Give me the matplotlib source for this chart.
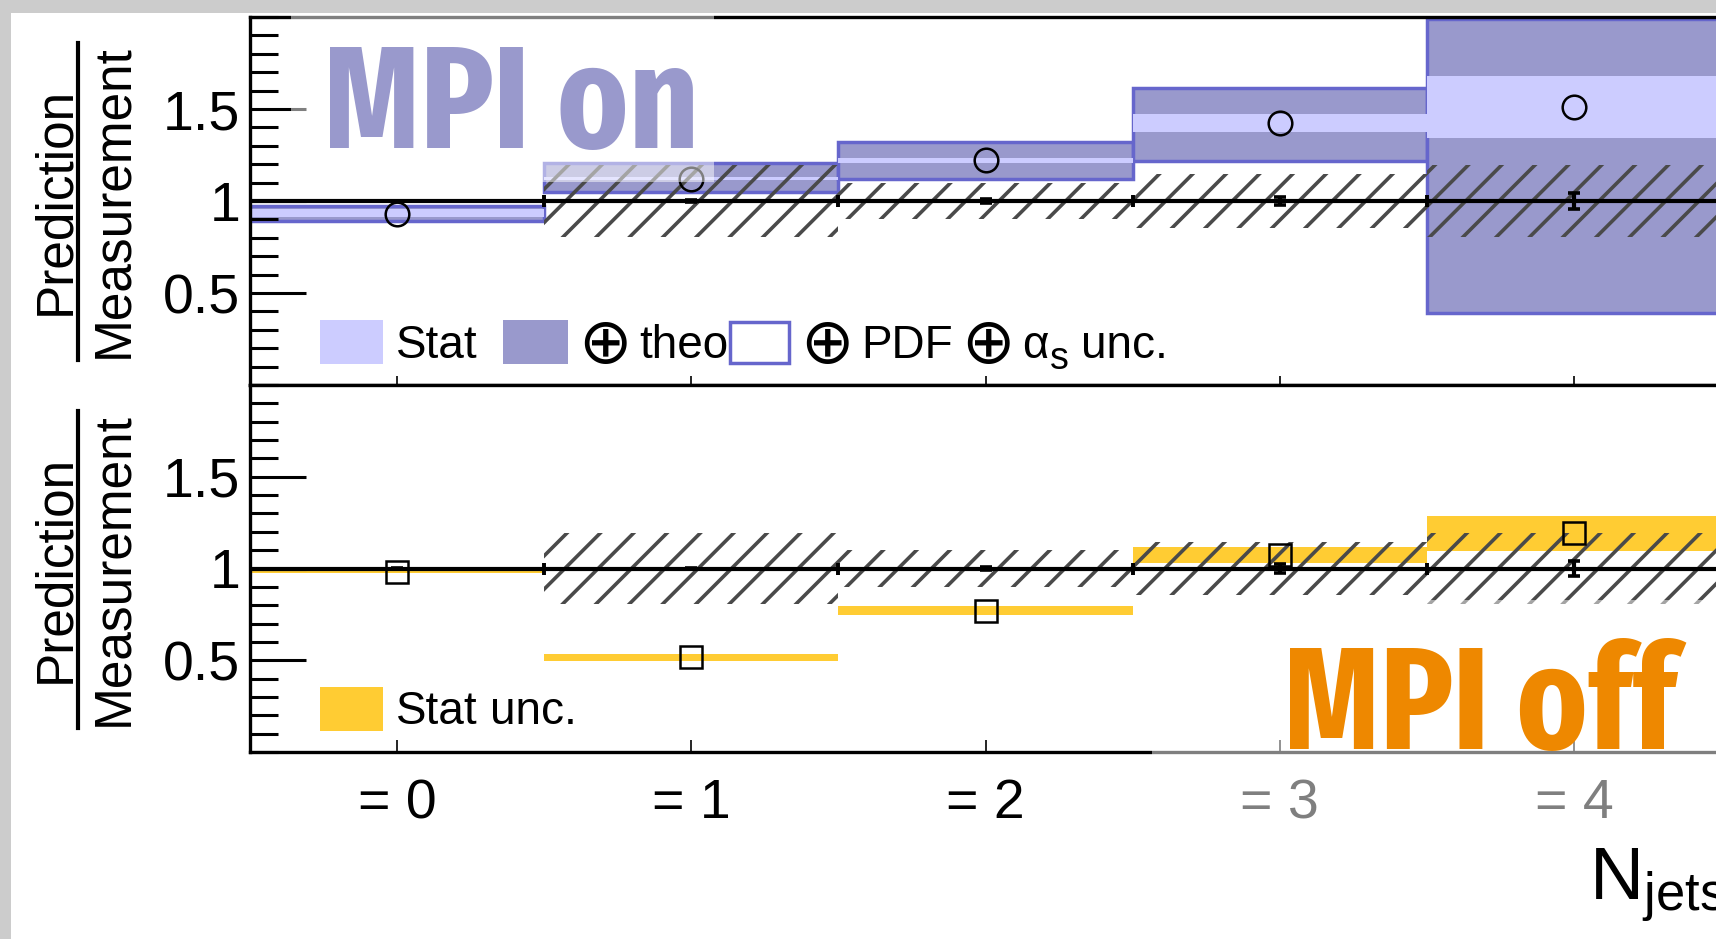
import os
import numpy as np
import matplotlib
matplotlib.use('Agg')
import matplotlib.pyplot as plt
from matplotlib import font_manager as fm
from matplotlib.ft2font import FT2Font
from matplotlib.patches import Rectangle
from matplotlib.lines import Line2D
from matplotlib.ticker import FixedLocator, MultipleLocator, FuncFormatter

# jet multiplicity bins
njets = [0, 1, 2, 3, 4]
njets_labels = ['= 0', '= 1', '= 2', '= 3', '= 4']

# measurement (ratio to itself = 1)
meas_ratio = [1.0, 1.0, 1.0, 1.0, 1.0]
meas_stat = [0.002, 0.005, 0.010, 0.023, 0.042]
meas_unc = [0.005, 0.195, 0.100, 0.145, 0.195]

# MPI on: prediction / measurement
mpi_on = [0.932, 1.120, 1.222, 1.425, 1.512]
mpi_on_stat_lo = [0.912, 1.113, 1.208, 1.374, 1.343]
mpi_on_stat_hi = [0.955, 1.130, 1.235, 1.474, 1.682]
mpi_on_tot_lo = [0.892, 1.050, 1.121, 1.218, 0.393]
mpi_on_tot_hi = [0.971, 1.205, 1.320, 1.614, 1.990]

# MPI off: prediction / measurement
mpi_off = [0.980, 0.517, 0.771, 1.074, 1.192]
mpi_off_stat_lo = [0.975, 0.497, 0.748, 1.028, 1.097]
mpi_off_stat_hi = [0.990, 0.534, 0.795, 1.119, 1.286]

STAT = '#ccccff'
THEO = '#9999cc'
EDGE = '#6666cc'
YELLOW = '#ffcc33'
HATCH = '#4a4a4a'
ORANGE = '#ee8800'

plt.rcParams['font.family'] = ['Liberation Sans', 'DejaVu Sans']
plt.rcParams['mathtext.fontset'] = 'custom'
plt.rcParams['mathtext.rm'] = 'Liberation Sans'
plt.rcParams['mathtext.it'] = 'Liberation Sans:italic'
plt.rcParams['mathtext.bf'] = 'Liberation Sans:bold'
plt.rcParams['hatch.linewidth'] = 2.6

W, H = 1716, 939


def fx(x):
    return x / W


def fy(y):
    return 1 - y / H


def pick_condensed_bold():
    best, best_score = None, -1e9
    for f in fm.fontManager.ttflist:
        key = (f.name + os.path.basename(f.fname)).lower()
        key = key.replace(' ', '').replace('-', '').replace('_', '')
        if 'italic' in key or 'oblique' in key:
            continue
        if 'extracondensed' in key or 'ultracondensed' in key:
            score = 30
        elif 'semicondensed' in key:
            score = 10
        elif 'condensed' in key or 'narrow' in key or 'cond' in key:
            score = 20
        else:
            continue
        w = f.weight if isinstance(f.weight, (int, float)) else fm.weight_dict.get(f.weight, 400)
        score += 10 - abs(w - 650) / 50
        if score > best_score:
            best, best_score = f.fname, score
    return best


def cap_ratio(path):
    try:
        f = FT2Font(path)
        cap = f.get_sfnt_table('OS/2').get('sCapHeight', 0)
        if cap:
            return cap / f.units_per_EM
    except Exception:
        pass
    return 0.72


cond = pick_condensed_bold()
if cond:
    big_font = fm.FontProperties(fname=cond)
    big_cap = cap_ratio(cond)
else:
    big_font = fm.FontProperties(family='DejaVu Sans', weight='bold')
    big_cap = 0.73
big_size = 123 / big_cap * 72 / 100

fig = plt.figure(figsize=(W / 100, H / 100), dpi=100, facecolor='#cccccc')
fig.add_artist(Rectangle((fx(11), 0), 1 - fx(11), fy(13), transform=fig.transFigure,
                         facecolor='white', edgecolor='none', zorder=-10))

ax_on = fig.add_axes([fx(250), fy(385), 1471 / W, 368 / H])
ax_off = fig.add_axes([fx(250), fy(752), 1471 / W, 367 / H])


def style(ax, xlen):
    ax.set_xlim(-0.5, 4.5)
    ax.set_ylim(0, 2)
    for s in ['left', 'bottom', 'top']:
        ax.spines[s].set_linewidth(2.4)
    ax.spines['right'].set_visible(False)
    ax.yaxis.set_major_locator(FixedLocator([0.5, 1.0, 1.5]))
    ax.yaxis.set_minor_locator(MultipleLocator(0.1))
    ax.yaxis.set_major_formatter(FuncFormatter(lambda v, p: f'{v:g}'))
    ax.tick_params(axis='y', which='major', direction='in', length=40, width=2.2,
                   pad=7, labelsize=40)
    ax.tick_params(axis='y', which='minor', direction='in', length=20, width=2.2)
    ax.set_xticks(njets)
    ax.set_xticklabels(njets_labels)
    ax.tick_params(axis='x', direction='in', length=xlen, width=1.2, pad=19,
                   labelsize=40, top=False)


style(ax_on, 6.5)
style(ax_off, 9)
ax_on.tick_params(axis='x', labelbottom=False)

# MPI on panel
ax_on.bar(njets, np.subtract(mpi_on_tot_hi, mpi_on_tot_lo), bottom=mpi_on_tot_lo, width=1.0,
          color=THEO, edgecolor=EDGE, linewidth=2.5, zorder=1)
ax_on.bar(njets, np.subtract(mpi_on_stat_hi, mpi_on_stat_lo), bottom=mpi_on_stat_lo, width=1.0,
          color=STAT, linewidth=0, zorder=2)

# MPI off panel
ax_off.bar(njets, np.subtract(mpi_off_stat_hi, mpi_off_stat_lo), bottom=mpi_off_stat_lo,
           width=1.0, color=YELLOW, linewidth=0, zorder=1)

for ax in (ax_on, ax_off):
    ax.bar(njets, 2 * np.array(meas_unc), bottom=1 - np.array(meas_unc), width=1.0,
           fill=False, hatch='/', edgecolor=HATCH, linewidth=0, zorder=3)
    ax.errorbar(njets, meas_ratio, xerr=0.5, yerr=meas_stat, fmt='none', ecolor='black',
                elinewidth=3.0, capsize=4.2, capthick=2.6, zorder=4)

ax_on.plot(njets, mpi_on, 'o', ms=17, mfc='none', mec='black', mew=1.8, zorder=5)
ax_off.plot(njets, mpi_off, 's', ms=16.5, mfc='none', mec='black', mew=1.8, zorder=5)

renderer = fig.canvas.get_renderer()


def chain(x, y, parts):
    # parts: (text, fontsize, baseline shift in px, gap after in px)
    for txt, fs, dy, gap in parts:
        t = fig.text(fx(x), fy(y + dy), txt, fontsize=fs, va='baseline')
        x += t.get_window_extent(renderer).width + gap


# legends
leg_fs = 33
op_fs = 46
sp = 12
fig.add_artist(Rectangle((fx(320), fy(364)), 63 / W, 44 / H, transform=fig.transFigure,
                         facecolor=STAT, edgecolor='none'))
chain(396, 358, [('Stat', leg_fs, 0, 0)])
fig.add_artist(Rectangle((fx(503), fy(364)), 65 / W, 44 / H, transform=fig.transFigure,
                         facecolor=THEO, edgecolor='none'))
chain(578, 358, [('⊕', op_fs, 5, 8), ('theo', leg_fs, 0, 0)])
fig.add_artist(Rectangle((fx(730), fy(363)), 59 / W, 41 / H, transform=fig.transFigure,
                         facecolor='white', edgecolor=EDGE, linewidth=2.5))
chain(800, 358, [('⊕', op_fs, 5, 8), ('PDF', leg_fs, 0, 8), ('⊕', op_fs, 5, 8),
                 ('α', leg_fs, 0, 1), ('s', 27, 11, sp), ('unc.', leg_fs, 0, 0)])

fig.add_artist(Rectangle((fx(320), fy(731)), 63 / W, 44 / H, transform=fig.transFigure,
                         facecolor=YELLOW, edgecolor='none'))
chain(396, 724, [('Stat', leg_fs, 0, sp), ('unc.', leg_fs, 0, 0)])

# y axis titles as fractions
for cy in (201.4, 569.0):
    fig.text(fx(69), fy(cy), 'Prediction', fontsize=37, rotation=90, rotation_mode='anchor',
             ha='center', va='baseline')
    fig.text(fx(127.5), fy(cy), 'Measurement', fontsize=37, rotation=90, rotation_mode='anchor',
             ha='center', va='baseline')
    fig.add_artist(Line2D([fx(78), fx(78)], [fy(cy - 158.5), fy(cy + 158.5)],
                          transform=fig.transFigure, color='black', linewidth=3))

fig.text(fx(1589), fy(900), r'$\mathrm{N}_{\mathrm{jets}}$', fontsize=54, va='baseline')

# semi-transparent boxes behind the labels
fig.add_artist(Rectangle((fx(291), fy(182)), (714 - 291) / W, (182 - 13) / H,
                         transform=fig.transFigure, facecolor='white', alpha=0.5,
                         edgecolor='none', zorder=2))
fig.add_artist(Rectangle((fx(1152), fy(835)), (1716 - 1152) / W, (835 - 600) / H,
                         transform=fig.transFigure, facecolor='white', alpha=0.5,
                         edgecolor='none', zorder=2))

t_on = fig.text(fx(323), fy(148), 'MPI on', color=THEO, fontproperties=big_font,
                fontsize=big_size, va='baseline', zorder=5)
t_off = fig.text(fx(1283), fy(749), 'MPI off', color=ORANGE, fontproperties=big_font,
                 fontsize=big_size, va='baseline', zorder=5)

for t, target in ((t_on, 358), (t_off, 375)):
    wdt = t.get_window_extent(renderer).width
    if wdt > 1.05 * target:
        t.set_fontsize(big_size * 1.05 * target / wdt)

fig.savefig('out.png', dpi=100)
